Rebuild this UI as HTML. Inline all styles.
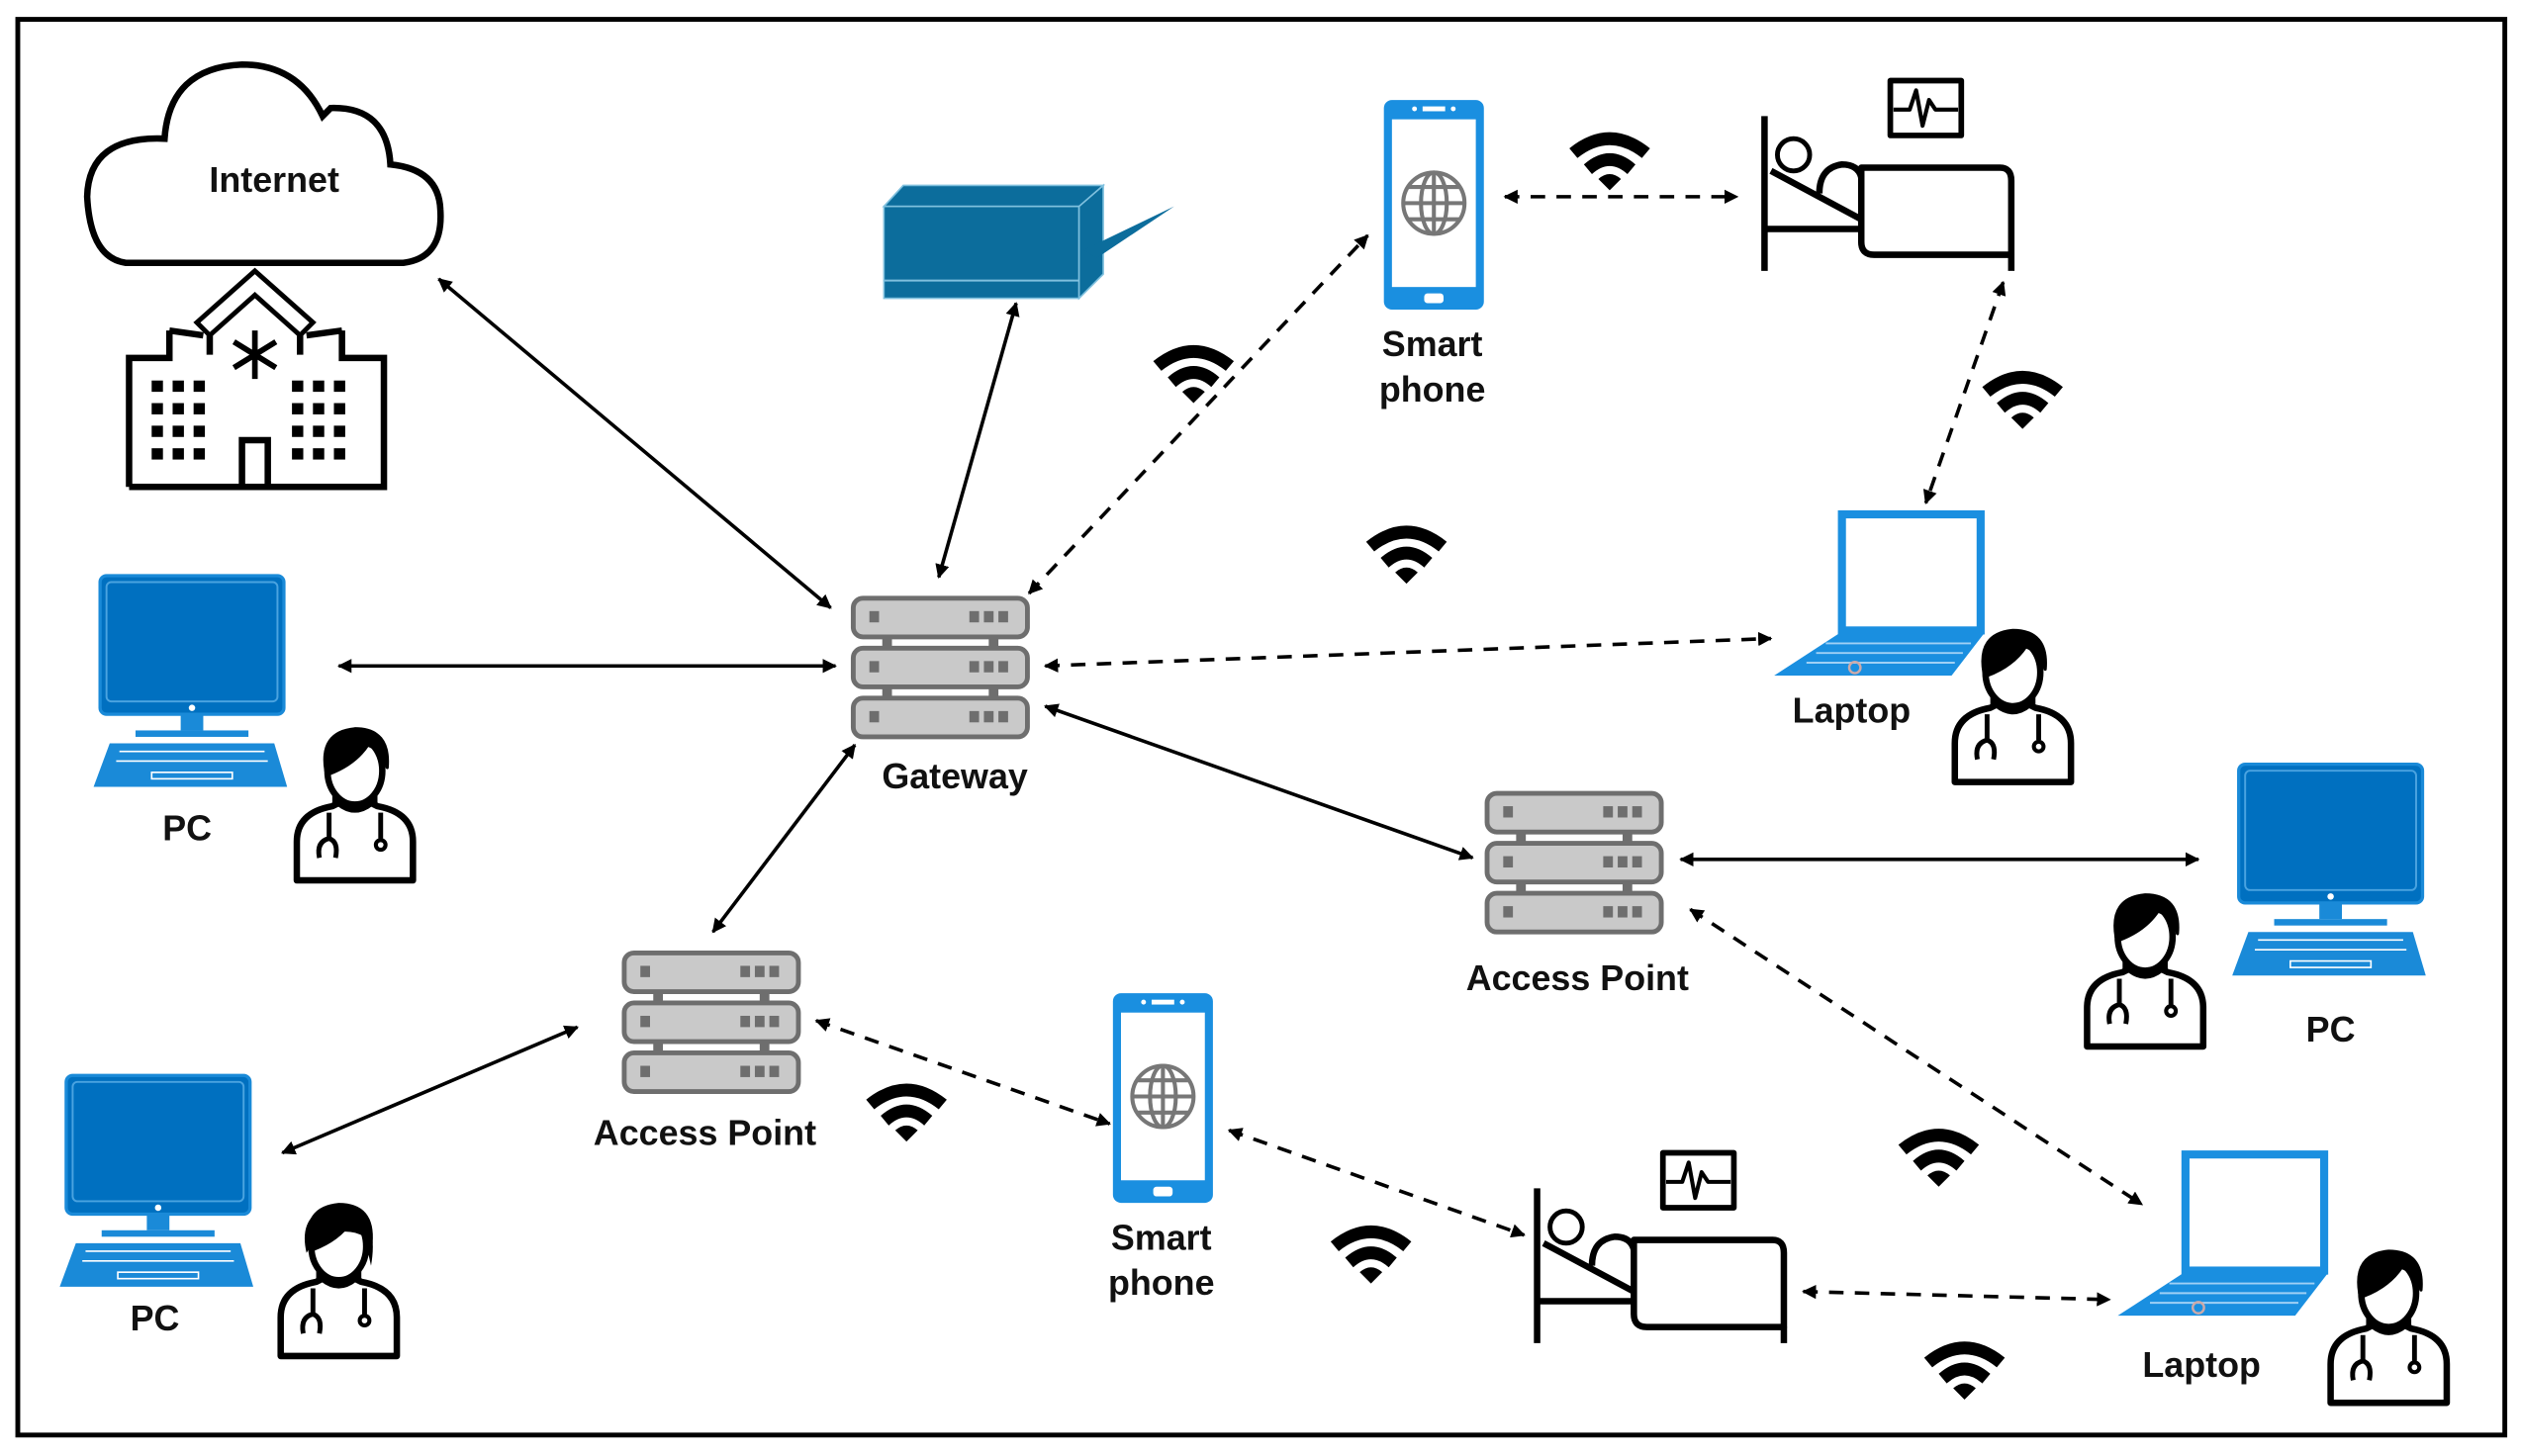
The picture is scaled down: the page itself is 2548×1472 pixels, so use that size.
<!DOCTYPE html>
<html><head><meta charset="utf-8"><style>html,body{margin:0;padding:0;background:#fff}svg{display:block}text{font-family:"Liberation Sans",sans-serif;font-weight:bold;fill:#111;text-anchor:middle}</style></head><body>
<svg width="2548" height="1472" viewBox="0 0 1563 903" xmlns="http://www.w3.org/2000/svg">
<defs>
<marker id="ah" viewBox="0 0 10 10" refX="9" refY="5" markerWidth="4" markerHeight="4" orient="auto-start-reverse"><path d="M0,0L10,5L0,10z" fill="#000"/></marker>
<g id="srv">
 <g fill="#c9c9c9" stroke="#6e6e6e" stroke-width="3">
  <rect x="2" y="2" width="108" height="24" rx="6"/><rect x="2" y="33" width="108" height="24" rx="6"/><rect x="2" y="64" width="108" height="24" rx="6"/>
 </g>
 <g fill="#6e6e6e"><rect x="12" y="10" width="6" height="7"/><rect x="74" y="10" width="6" height="7"/><rect x="83" y="10" width="6" height="7"/><rect x="92" y="10" width="6" height="7"/>
 <rect x="12" y="41" width="6" height="7"/><rect x="74" y="41" width="6" height="7"/><rect x="83" y="41" width="6" height="7"/><rect x="92" y="41" width="6" height="7"/>
 <rect x="12" y="72" width="6" height="7"/><rect x="74" y="72" width="6" height="7"/><rect x="83" y="72" width="6" height="7"/><rect x="92" y="72" width="6" height="7"/>
 <rect x="20" y="26" width="6" height="7"/><rect x="86" y="26" width="6" height="7"/><rect x="20" y="57" width="6" height="7"/><rect x="86" y="57" width="6" height="7"/></g>
</g>
<g id="pc">
 <rect x="4" y="0" width="114" height="86" rx="4" fill="#0070c0" stroke="#1a8ad8" stroke-width="2"/>
 <rect x="8" y="4" width="106" height="74" rx="3" fill="none" stroke="#4aa3e0" stroke-width="1.2"/>
 <circle cx="61" cy="82" r="2" fill="#fff"/>
 <rect x="54" y="86" width="14" height="10" fill="#1a8ad8"/><rect x="26" y="96" width="70" height="4" fill="#1a8ad8"/>
 <path d="M10,104H112L120,131H0Z" fill="#1a8ad8"/>
 <path d="M16,109H106M14,115H108" stroke="#fff" stroke-width="1"/><rect x="36" y="122" width="50" height="4" fill="none" stroke="#fff" stroke-width="1"/>
</g>
<g id="doc" fill="none" stroke="#000" stroke-width="4" stroke-linejoin="round">
 <path d="M4,96V72Q4,54 26,50L30,48Q40,56 50,48L54,50Q76,54 76,72V96Z" fill="#fff"/>
 <path d="M28,40V50M52,40V50"/>
 <ellipse cx="40" cy="28" rx="17" ry="21" fill="#fff"/>
 <path d="M22,28Q18,4 40,2Q62,2 60,26Q58,16 48,12Q40,24 24,30Z" fill="#000" stroke-width="2"/>
 <path d="M24,54V70M24,70Q16,72 18,82M24,70Q30,72 28,82" stroke-width="3"/>
 <path d="M56,54V70" stroke-width="3"/><circle cx="56" cy="74" r="3" stroke-width="2.5"/>
</g>
<g id="wifi" fill="#000">
 <path d="M0,14Q25,-6 50,14L45,20Q25,4 5,20Z"/><path d="M9,24Q25,10 41,24L36,30Q25,20 14,30Z"/><path d="M18,33Q25,27 32,33L25,40Z"/>
</g>
<g id="phone">
 <rect x="0" y="0" width="62" height="130" rx="5" fill="#1a8fe0"/>
 <rect x="5" y="12" width="52" height="104" fill="#fff"/>
 <rect x="24" y="4" width="14" height="3" fill="#fff"/><circle cx="19" cy="5.5" r="1.5" fill="#fff"/><circle cx="43" cy="5.5" r="1.5" fill="#fff"/>
 <rect x="25" y="120" width="12" height="6" rx="2" fill="#fff"/>
 <g fill="none" stroke="#777" stroke-width="2.5"><circle cx="31" cy="64" r="19"/><ellipse cx="31" cy="64" rx="8" ry="19"/><path d="M31,45V83M12,64H50M15,54H47M15,74H47"/></g>
</g>
<g id="laptop">
 <rect x="42" y="4" width="86" height="72" fill="#fff" stroke="#1a8fe0" stroke-width="5"/>
 <path d="M40,78H130L110,104H0Z" fill="#1a8fe0"/>
 <path d="M32,84H122M26,90H117M20,96H112" stroke="#9fd0f5" stroke-width="1.2"/>
 <circle cx="50" cy="99" r="3.5" fill="none" stroke="#caa" stroke-width="1.5"/>
</g>
<g id="bed" fill="none" stroke="#000" stroke-width="4" stroke-linejoin="round">
 <path d="M2,26V122M2,96H62"/>
 <path d="M62,58H148Q155,58 155,66V112H70Q62,112 62,104Z"/>
 <path d="M155,112V122"/>
 <circle cx="20" cy="50" r="10" stroke-width="3"/>
 <path d="M6,60L62,90M36,74Q36,58 50,56Q60,56 62,64"/>
 <rect x="80" y="4" width="44" height="34" stroke-width="3.5"/>
 <path d="M82,22H92L96,10L100,32L104,16L108,22H122" stroke-width="2.5"/>
</g>
</defs>
<rect x="11" y="12" width="1542" height="878" fill="none" stroke="#000" stroke-width="3"/>
<!-- cloud -->
<path d="M78,163H250Q275,160 273,130Q272,105 242,102Q240,66 205,67Q200,72 200,72Q185,40 150,40Q105,42 102,86Q55,84 54,122Q56,160 78,163Z" fill="#fff" stroke="#000" stroke-width="4"/>
<text x="170" y="119" font-size="22">Internet</text>
<!-- hospital -->
<g fill="none" stroke="#000" stroke-width="4">
<path d="M80,302V222H105V205M212,205V222H238V302H80"/>
<path d="M105,205L126,208M212,205L190,208"/>
<path d="M122,200L158,168L194,200L186,208L158,183L130,208Z" stroke-width="3"/>
<path d="M130,208V220M186,208V220"/>
<path d="M150,302V273H166V302"/>
</g>
<path d="M158,205V235M145,212L171,228M171,212L145,228" stroke="#000" stroke-width="3.5"/>
<g fill="#000">
<g id="win"><rect x="94" y="236" width="7" height="7"/><rect x="107" y="236" width="7" height="7"/><rect x="120" y="236" width="7" height="7"/></g>
<use href="#win" y="14"/><use href="#win" y="28"/><use href="#win" y="42"/>
<use href="#win" x="87"/><use href="#win" x="87" y="14"/><use href="#win" x="87" y="28"/><use href="#win" x="87" y="42"/>
</g>
<!-- blue box -->
<path d="M548,128L560,115H684L670,128Z" fill="#0c6d9c" stroke="#7fc0de" stroke-width="1"/>
<rect x="548" y="128" width="121" height="57" fill="#0c6d9c" stroke="#7fc0de" stroke-width="1"/>
<line x1="548" y1="174" x2="669" y2="174" stroke="#7fc0de" stroke-width="1.2"/>
<path d="M669,128L684,115V170L669,185Z" fill="#0c6d9c" stroke="#7fc0de" stroke-width="1"/>
<path d="M672,155L728,128L680,160Z" fill="#0c6d9c"/>
<!-- connectors -->
<g stroke="#000" stroke-width="2.2" marker-start="url(#ah)" marker-end="url(#ah)" fill="none">
<line x1="272" y1="173" x2="515" y2="377"/>
<line x1="630" y1="188" x2="582" y2="358"/>
<line x1="210" y1="413" x2="518" y2="413"/>
<line x1="530" y1="462" x2="442" y2="578"/>
<line x1="648" y1="438" x2="913" y2="532"/>
<line x1="1042" y1="533" x2="1363" y2="533"/>
<line x1="175" y1="715" x2="358" y2="637"/>
<g stroke-dasharray="9,7">
<line x1="638" y1="368" x2="848" y2="146"/>
<line x1="933" y1="122" x2="1077" y2="122"/>
<line x1="1242" y1="175" x2="1194" y2="312"/>
<line x1="648" y1="413" x2="1098" y2="396"/>
<line x1="1048" y1="564" x2="1328" y2="747"/>
<line x1="506" y1="633" x2="688" y2="697"/>
<line x1="762" y1="701" x2="945" y2="766"/>
<line x1="1118" y1="801" x2="1308" y2="806"/>
</g>
</g>
<!-- nodes -->
<use href="#srv" x="527" y="369"/><text x="592" y="489" font-size="22">Gateway</text>
<use href="#srv" x="385" y="589"/><text x="437" y="710" font-size="22">Access Point</text>
<use href="#srv" x="920" y="490"/><text x="978" y="614" font-size="22">Access Point</text>
<use href="#pc" x="58" y="357"/><text x="116" y="521" font-size="22">PC</text><use href="#doc" x="180" y="450"/>
<use href="#pc" x="37" y="667"/><text x="96" y="825" font-size="22">PC</text>
<g transform="translate(170,745)"><use href="#doc"/><path d="M20,32Q14,6 40,2Q66,6 60,40L56,22Q42,14 24,26Z" fill="#000"/></g>
<use href="#pc" x="1384" y="474"/><text x="1445" y="646" font-size="22">PC</text><use href="#doc" x="1290" y="553"/>
<use href="#phone" x="858" y="62"/><text x="888" y="221" font-size="22">Smart</text><text x="888" y="249" font-size="22">phone</text>
<use href="#phone" x="690" y="616"/><text x="720" y="775" font-size="22">Smart</text><text x="720" y="803" font-size="22">phone</text>
<use href="#bed" x="1092" y="46"/>
<use href="#bed" x="951" y="711"/>
<use href="#laptop" x="1100" y="315"/><text x="1148" y="448" font-size="22">Laptop</text><use href="#doc" x="1208" y="389"/>
<use href="#laptop" x="1313" y="712"/><text x="1365" y="854" font-size="22">Laptop</text><use href="#doc" x="1441" y="774"/>
<use href="#wifi" x="973" y="78"/><use href="#wifi" x="715" y="210"/><use href="#wifi" x="1229" y="226"/><use href="#wifi" x="847" y="322"/>
<use href="#wifi" x="537" y="668"/><use href="#wifi" x="825" y="756"/><use href="#wifi" x="1177" y="696"/><use href="#wifi" x="1193" y="828"/>
</svg>
</body></html>
